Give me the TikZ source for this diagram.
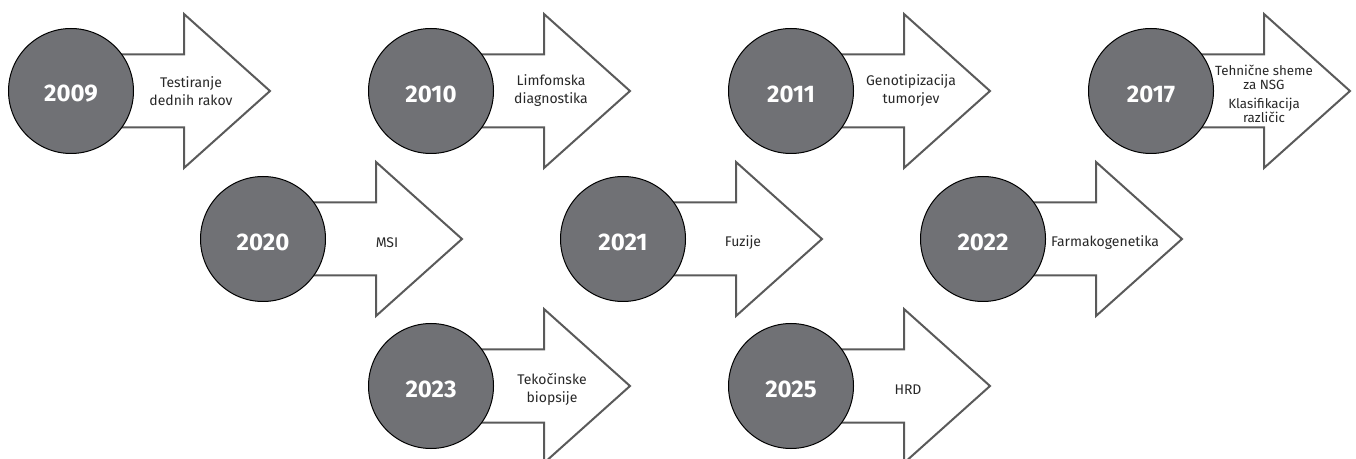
\documentclass[tikz,border=0pt]{standalone}
\usepackage{amsmath}
\usepackage[dvipsnames, table]{xcolor}
\usepackage{fontspec}
\setmainfont{Fira Sans}

\begin{document}
\begin{tikzpicture}[x=0.75pt,y=0.75pt,yscale=-1,xscale=1,
  arrowshape/.style={draw={rgb, 255:red, 90; green, 90; blue, 90}, line width=1.5, fill=white, line join=miter},
  yearcircle/.style={draw=black, line width=0.75, fill={rgb, 255:red, 112; green, 113; blue, 117}},
  yeartext/.style={inner sep=0.75pt, text=white, font=\fontsize{18}{20}\selectfont\bfseries},
  labeltext/.style={inner sep=0.75pt, text={rgb, 255:red, 40; green, 40; blue, 40}, align=center, font=\fontsize{10.5}{13.5}\selectfont}]
\useasboundingbox (0,0) rectangle (1356,459);

%Shape: Right Arrow 2009
\draw [arrowshape] (71,54.5) -- (184,54.5) -- (184,14) -- (270,91) -- (184,168) -- (184,127.5) -- (71,127.5) -- cycle ;
%Shape: Circle 2009
\draw [yearcircle] (71,91) circle (62.5) ;
%Shape: Right Arrow 2010
\draw [arrowshape] (431,54.5) -- (544,54.5) -- (544,14) -- (630,91) -- (544,168) -- (544,127.5) -- (431,127.5) -- cycle ;
%Shape: Circle 2010
\draw [yearcircle] (431,91) circle (62.5) ;
%Shape: Right Arrow 2011
\draw [arrowshape] (791,54.5) -- (904,54.5) -- (904,14) -- (990,91) -- (904,168) -- (904,127.5) -- (791,127.5) -- cycle ;
%Shape: Circle 2011
\draw [yearcircle] (791,91) circle (62.5) ;
%Shape: Right Arrow 2017
\draw [arrowshape] (1151,54.5) -- (1264,54.5) -- (1264,14) -- (1350,91) -- (1264,168) -- (1264,127.5) -- (1151,127.5) -- cycle ;
%Shape: Circle 2017
\draw [yearcircle] (1151,91) circle (62.5) ;

%Shape: Right Arrow 2020
\draw [arrowshape] (263,202.5) -- (376,202.5) -- (376,162) -- (462,239) -- (376,316) -- (376,275.5) -- (263,275.5) -- cycle ;
%Shape: Circle 2020
\draw [yearcircle] (263,239) circle (62.5) ;
%Shape: Right Arrow 2021
\draw [arrowshape] (623,202.5) -- (736,202.5) -- (736,162) -- (822,239) -- (736,316) -- (736,275.5) -- (623,275.5) -- cycle ;
%Shape: Circle 2021
\draw [yearcircle] (623,239) circle (62.5) ;
%Shape: Right Arrow 2022
\draw [arrowshape] (983,202.5) -- (1096,202.5) -- (1096,162) -- (1182,239) -- (1096,316) -- (1096,275.5) -- (983,275.5) -- cycle ;
%Shape: Circle 2022
\draw [yearcircle] (983,239) circle (62.5) ;

%Shape: Right Arrow 2023
\draw [arrowshape] (431,349.5) -- (544,349.5) -- (544,309) -- (630,386) -- (544,463) -- (544,422.5) -- (431,422.5) -- cycle ;
%Shape: Circle 2023
\draw [yearcircle] (431,386) circle (62.5) ;
%Shape: Right Arrow 2025
\draw [arrowshape] (791,349.5) -- (904,349.5) -- (904,309) -- (990,386) -- (904,463) -- (904,422.5) -- (791,422.5) -- cycle ;
%Shape: Circle 2025
\draw [yearcircle] (791,386) circle (62.5) ;

% Text Node
\draw (71,94) node (y2009) [yeartext] {2009};
% Text Node
\draw (431,94) node (y2010) [yeartext] {2010};
% Text Node
\draw (791,94) node (y2011) [yeartext] {2011};
% Text Node
\draw (1151,94) node (y2017) [yeartext] {2017};
% Text Node
\draw (263,242) node (y2020) [yeartext] {2020};
% Text Node
\draw (623,242) node (y2021) [yeartext] {2021};
% Text Node
\draw (983,242) node (y2022) [yeartext] {2022};
% Text Node
\draw (431,389) node (y2023) [yeartext] {2023};
% Text Node
\draw (791,389) node (y2025) [yeartext] {2025};

% Text Node
\draw (191,91) node (l2009) [labeltext] {Testiranje\\dednih rakov};
% Text Node
\draw (551,91) node (l2010) [labeltext] {Limfomska\\diagnostika};
% Text Node
\draw (911,91) node (l2011) [labeltext] {Genotipizacija\\tumorjev};
% Text Node
\draw (1264,94) node (l2017) [labeltext, font=\fontsize{10}{13.5}\selectfont] {Tehnične sheme\\[-3pt]za NSG\\[0.75pt]Klasifikacija\\[-3pt]različic};
% Text Node
\draw (387,243) node (l2020) [labeltext] {MSI};
% Text Node
\draw (743,243) node (l2021) [labeltext] {Fuzije};
% Text Node
\draw (1105,243) node (l2022) [labeltext] {Farmakogenetika};
% Text Node
\draw (552,389) node (l2023) [labeltext] {Tekočinske\\biopsije};
% Text Node
\draw (908,390) node (l2025) [labeltext] {HRD};

\end{tikzpicture}
\end{document}
